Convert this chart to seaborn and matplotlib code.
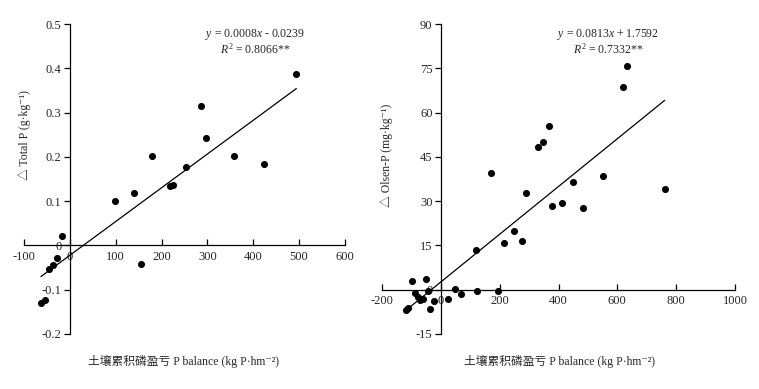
import numpy as np
import pandas as pd
import seaborn as sns
import matplotlib.pyplot as plt
from matplotlib.ticker import FuncFormatter

# left panel: change in total P vs cumulative P balance
tp_x = [494, 287, 296, 179, 254, 358, 424, 219, 224, 141, 98, 156, -17, -28, -36, -45, -54, -63]
tp_y = [0.388, 0.314, 0.242, 0.203, 0.178, 0.201, 0.183, 0.135, 0.137, 0.118, 0.100, -0.041,
        0.021, -0.029, -0.044, -0.054, -0.123, -0.129]

# right panel: change in Olsen-P vs cumulative P balance
op_x = [634, 620, 368, 347, 330, 171, 289, 448, 550, 761, 378, 413, 483, 249, 277, 214, 118,
        193, 122, 69, 49, 25, -24, -37, -45, -50, -98, -87, -79, -71, -62, -111, -120]
op_y = [75.8, 68.8, 55.4, 49.9, 48.5, 39.7, 32.7, 36.6, 38.4, 34.2, 28.5, 29.5, 27.6, 19.8,
        16.6, 15.7, 13.3, -0.6, -0.6, -1.5, 0.3, -3.3, -3.8, -6.4, -0.5, 3.6, 3.1, -1.0, -2.6,
        -3.4, -3.3, -6.1, -6.9]

tp_xticks = [-100, 0, 100, 200, 300, 400, 500, 600]
tp_yticks = [-0.2, -0.1, 0, 0.1, 0.2, 0.3, 0.4, 0.5]
op_xticks = [-200, 0, 200, 400, 600, 800, 1000]
op_yticks = [-15, 0, 15, 30, 45, 60, 75, 90]

tp_eq = ["$y$ = 0.0008$x$ - 0.0239", "$R^2$ = 0.8066**"]
op_eq = ["$y$ = 0.0813$x$ + 1.7592", "$R^2$ = 0.7332**"]

xlab = "土壤累积磷盈亏 P balance (kg P·hm⁻²)"
tp_ylab = "△ Total P (g·kg⁻¹)"
op_ylab = "△ Olsen-P (mg·kg⁻¹)"

sns.set_style("ticks")
plt.rcParams['font.family'] = ['Liberation Serif', 'Noto Sans CJK SC', 'DejaVu Sans']
plt.rcParams['mathtext.fontset'] = 'custom'
plt.rcParams['mathtext.rm'] = 'Liberation Serif'
plt.rcParams['mathtext.it'] = 'Liberation Serif:italic'
plt.rcParams['axes.unicode_minus'] = False

fig = plt.figure(figsize=(7.59, 3.89), dpi=100)
ax1 = fig.add_axes([0.0316, 0.1414, 0.4229, 0.7969])
ax2 = fig.add_axes([0.5033, 0.1414, 0.4651, 0.7969])

df1 = pd.DataFrame({'x': tp_x, 'y': tp_y})
df2 = pd.DataFrame({'x': op_x, 'y': op_y})

panels = [
    (ax1, df1, tp_xticks, tp_yticks, tp_eq, tp_ylab, (0.003, 0.642), 0.72),
    (ax2, df2, op_xticks, op_yticks, op_eq, op_ylab, (0.014, 0.577), 0.64),
]

for ax, df, xt, yt, eq, ylab, ylpos, eqx in panels:
    sns.regplot(data=df, x='x', y='y', ax=ax, ci=None, color='black',
                scatter_kws=dict(s=26, linewidths=0, alpha=1),
                line_kws=dict(lw=0.9))
    ax.set_xlim(xt[0], xt[-1])
    ax.set_ylim(yt[0], yt[-1])
    ax.set_xticks(xt)
    ax.set_yticks(yt)
    ax.yaxis.set_major_formatter(FuncFormatter(lambda v, p: f"{v:g}"))
    for s in ['top', 'right']:
        ax.spines[s].set_visible(False)
    ax.spines['left'].set_position(('data', 0))
    ax.spines['bottom'].set_position(('data', 0))
    for s in ['left', 'bottom']:
        ax.spines[s].set_linewidth(0.9)
        ax.spines[s].set_color('black')
    ax.tick_params(axis='x', direction='in', length=4, width=0.9, labelsize=9, pad=4, color='black')
    ax.tick_params(axis='y', direction='out', length=4, width=0.9, labelsize=9, pad=2, color='black')
    ax.set_xlabel('')
    ax.set_ylabel(ylab, fontsize=8.5, va='center')
    ax.yaxis.set_label_coords(*ylpos)
    ax.text(eqx, 0.965, eq[0], transform=ax.transAxes, ha='center', va='center', fontsize=8.5)
    ax.text(eqx, 0.92, eq[1], transform=ax.transAxes, ha='center', va='center', fontsize=8.5)

fig.text(184 / 759, 1 - 361 / 389, xlab, ha='center', va='center', fontsize=8.5)
fig.text(560 / 759, 1 - 361 / 389, xlab, ha='center', va='center', fontsize=8.5)

fig.savefig('out.png', dpi=100)
